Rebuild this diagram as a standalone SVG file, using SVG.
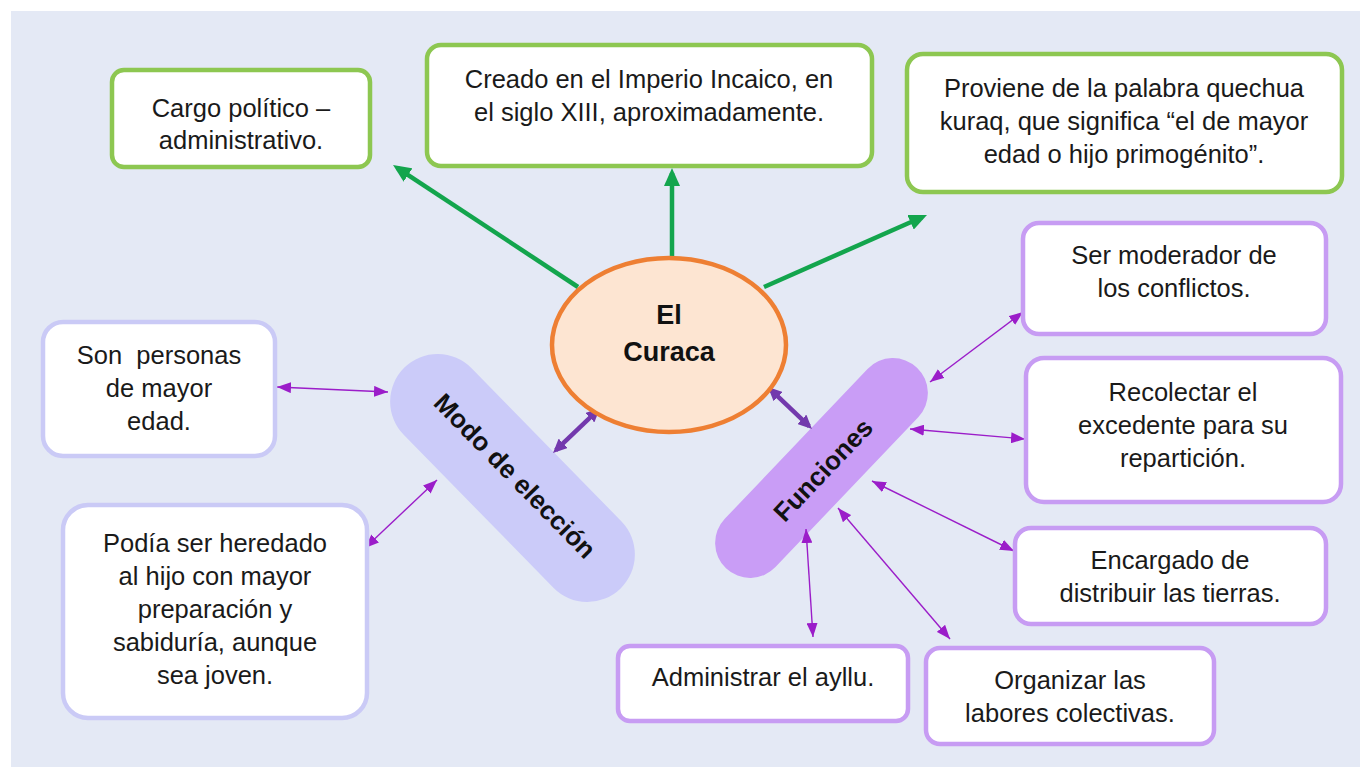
<svg xmlns="http://www.w3.org/2000/svg" width="1360" height="767" viewBox="0 0 1360 767">
<style>
.t{font-family:"Liberation Sans",Arial,sans-serif;font-size:25.5px;fill:#1a1a1a;text-anchor:middle}
.b{font-family:"Liberation Sans",Arial,sans-serif;font-weight:bold;fill:#111;text-anchor:middle}
.gbox{fill:#fff;stroke:#8dc751;stroke-width:4.5}
.lbox{fill:#fff;stroke:#cacaf6;stroke-width:4.5}
.pbox{fill:#fff;stroke:#c79cf3;stroke-width:4.5}
.g{stroke:#13a54d;stroke-width:4.5;fill:none;marker-end:url(#ag)}
.k{stroke:#7339ad;stroke-width:4.5;fill:none;marker-start:url(#ak);marker-end:url(#ak)}
.p{stroke:#9b1dc9;stroke-width:1.4;fill:none;marker-start:url(#ap);marker-end:url(#ap)}
</style>
<defs>
<marker id="ag" viewBox="0 0 18 16" markerUnits="userSpaceOnUse" markerWidth="18" markerHeight="16" refX="13" refY="8" orient="auto-start-reverse"><path d="M0,0 L18,8 L0,16 z" fill="#13a54d"/></marker>
<marker id="ak" viewBox="0 0 14 13" markerUnits="userSpaceOnUse" markerWidth="14" markerHeight="13" refX="10" refY="6.5" orient="auto-start-reverse"><path d="M0,0 L14,6.5 L0,13 z" fill="#7339ad"/></marker>
<marker id="ap" viewBox="0 0 14 11" markerUnits="userSpaceOnUse" markerWidth="14" markerHeight="11" refX="14" refY="5.5" orient="auto-start-reverse"><path d="M0,0 L14,5.5 L0,11 z" fill="#9b1dc9"/></marker>
</defs>
<rect x="0" y="0" width="1360" height="767" fill="#ffffff"/>
<rect x="11" y="11" width="1349" height="756" fill="#e4e9f5"/>

<g id="modo">
<rect x="-154.5" y="-47.5" width="309" height="95" rx="47.5" fill="#cbcbf9" transform="translate(512.5,478) rotate(45.6)"/>
<text class="b" font-size="26" x="0" y="9" transform="translate(515,476) rotate(45.6)">Modo de elección</text>
</g>
<g id="funciones">
<rect x="-138.5" y="-35" width="277" height="70" rx="35" fill="#c99df6" transform="translate(821.5,468) rotate(-46.4)"/>
<text class="b" font-size="26" x="0" y="9" transform="translate(823,470) rotate(-46.4)">Funciones</text>
</g>

<g id="connectors">
<line class="g" x1="578" y1="287" x2="397.2" y2="167.8"/>
<line class="g" x1="672" y1="258" x2="672" y2="173"/>
<line class="g" x1="764" y1="287" x2="922.4" y2="217"/>
<line class="k" x1="597.1" y1="410.8" x2="555.9" y2="450.2"/>
<line class="k" x1="770.9" y1="389.8" x2="809.1" y2="426.2"/>
<line class="p" x1="277" y1="387" x2="388" y2="392"/>
<line class="p" x1="365" y1="548" x2="437" y2="480"/>
<line class="p" x1="1023" y1="312" x2="930" y2="382"/>
<line class="p" x1="910" y1="429" x2="1025" y2="439"/>
<line class="p" x1="872" y1="481" x2="1014" y2="551"/>
<line class="p" x1="806" y1="529" x2="813" y2="637"/>
<line class="p" x1="838" y1="508" x2="950" y2="639"/>
</g>

<g id="curaca">
<ellipse cx="669" cy="345" rx="117" ry="87" fill="#fde5d2" stroke="#ee7f33" stroke-width="4.5"/>
<text class="b" font-size="27" x="669" y="324">El</text>
<text class="b" font-size="27" x="669" y="361">Curaca</text>
</g>

<g id="cargo">
<rect class="gbox" x="112" y="70" width="258" height="97" rx="12"/>
<text class="t" x="241" y="117">Cargo político –</text>
<text class="t" x="241" y="149">administrativo.</text>
</g>
<g id="creado">
<rect class="gbox" x="427" y="45" width="445" height="121" rx="14"/>
<text class="t" x="649" y="88">Creado en el Imperio Incaico, en</text>
<text class="t" x="649" y="121">el siglo XIII, aproximadamente.</text>
</g>
<g id="proviene">
<rect class="gbox" x="907" y="54" width="435" height="138" rx="16"/>
<text class="t" x="1124" y="97">Proviene de la palabra quechua</text>
<text class="t" x="1124" y="130">kuraq, que significa “el de mayor</text>
<text class="t" x="1124" y="163">edad o hijo primogénito”.</text>
</g>
<g id="son">
<rect class="lbox" x="43" y="322" width="232" height="134" rx="20"/>
<text class="t" x="159" y="364" style="white-space:pre">Son  personas</text>
<text class="t" x="159" y="397">de mayor</text>
<text class="t" x="159" y="430">edad.</text>
</g>
<g id="podia">
<rect class="lbox" x="63" y="505" width="304" height="213" rx="25"/>
<text class="t" x="215" y="552">Podía ser heredado</text>
<text class="t" x="215" y="585">al hijo con mayor</text>
<text class="t" x="215" y="618">preparación y</text>
<text class="t" x="215" y="651">sabiduría, aunque</text>
<text class="t" x="215" y="684">sea joven.</text>
</g>
<g id="moderador">
<rect class="pbox" x="1023" y="223" width="303" height="111" rx="16"/>
<text class="t" x="1174" y="264">Ser moderador de</text>
<text class="t" x="1174" y="297">los conflictos.</text>
</g>
<g id="recolectar">
<rect class="pbox" x="1026" y="358" width="315" height="144" rx="18"/>
<text class="t" x="1183" y="401">Recolectar el</text>
<text class="t" x="1183" y="434">excedente para su</text>
<text class="t" x="1183" y="467">repartición.</text>
</g>
<g id="encargado">
<rect class="pbox" x="1015" y="528" width="311" height="96" rx="16"/>
<text class="t" x="1170" y="569">Encargado de</text>
<text class="t" x="1170" y="602">distribuir las tierras.</text>
</g>
<g id="administrar">
<rect class="pbox" x="618" y="646" width="290" height="75" rx="12"/>
<text class="t" x="763" y="686">Administrar el ayllu.</text>
</g>
<g id="organizar">
<rect class="pbox" x="926" y="648" width="288" height="96" rx="14"/>
<text class="t" x="1070" y="689">Organizar las</text>
<text class="t" x="1070" y="722">labores colectivas.</text>
</g>
</svg>
